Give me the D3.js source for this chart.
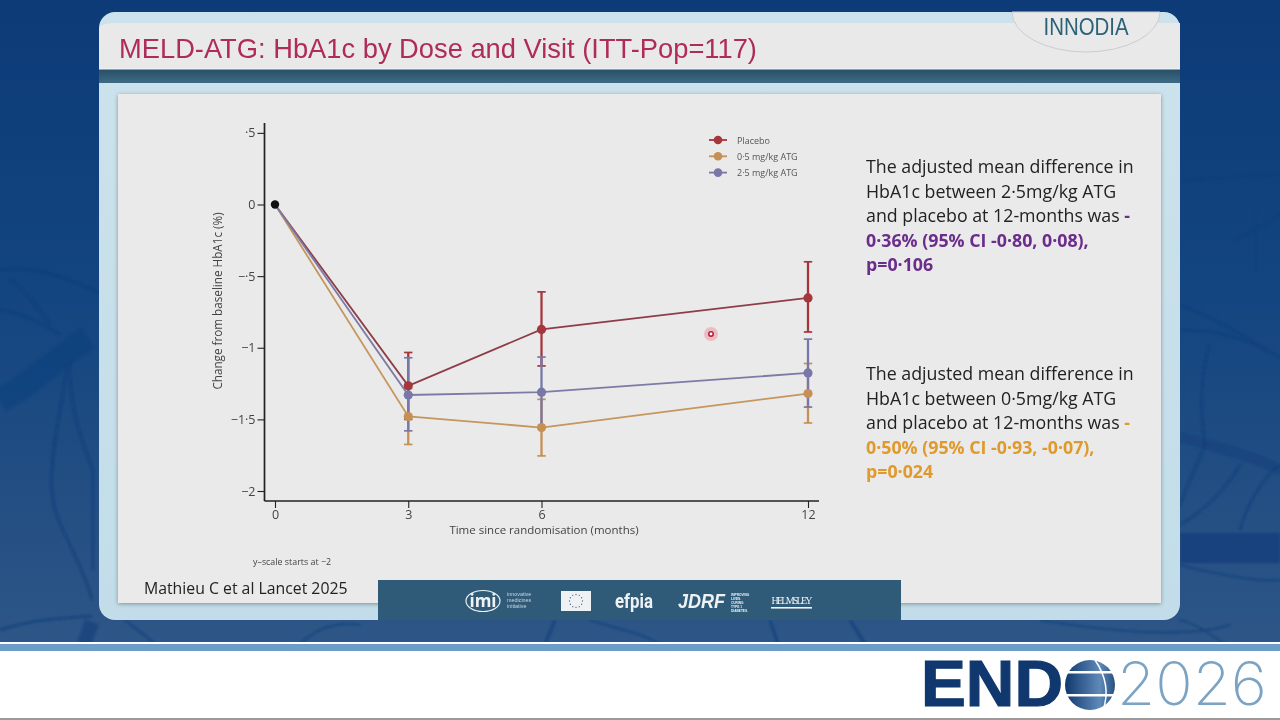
<!DOCTYPE html>
<html><head><meta charset="utf-8">
<script src="https://cdn.jsdelivr.net/npm/d3@7"></script>
<style>html,body{margin:0;padding:0;background:#fff}svg{display:block}</style>
</head><body><svg id="c" width="1280" height="720"></svg>
<script>
const months=[0,3,6,12];
const yTicks=[0.5,0,-0.5,-1,-1.5,-2];
const yTickLabels=["·5","0","−·5","−1","−1·5","−2"];
const placeboMean=[0,-1.266,-0.872,-0.652];
const placeboLow=[null,-1.5,-1.127,-0.89];
const placeboHigh=[null,-1.033,-0.61,-0.40];
const lowDoseMean=[0,-1.48,-1.557,-1.32];
const lowDoseLow=[null,-1.675,-1.755,-1.525];
const lowDoseHigh=[null,-1.285,-1.36,-1.11];
const highDoseMean=[0,-1.33,-1.31,-1.176];
const highDoseLow=[null,-1.58,-1.555,-1.414];
const highDoseHigh=[null,-1.07,-1.065,-0.94];
const seriesNames=["Placebo","0·5 mg/kg ATG","2·5 mg/kg ATG"];
const seriesColors=["#a4363c","#c68f55","#7877a8"];
const lineColors=["#8e3d48","#c5965e","#7c7ba6"];
const means=[placeboMean,lowDoseMean,highDoseMean];
const lows=[placeboLow,lowDoseLow,highDoseLow];
const highs=[placeboHigh,lowDoseHigh,highDoseHigh];

const svg=d3.select("#c");
const defs=svg.append("defs");
const g1=defs.append("linearGradient").attr("id","bg").attr("x1",0).attr("x2",0).attr("y1",0).attr("y2",1);
g1.append("stop").attr("offset",0).attr("stop-color","#0c3b78");
g1.append("stop").attr("offset",0.45).attr("stop-color","#134580");
g1.append("stop").attr("offset",0.7).attr("stop-color","#1f4c82");
g1.append("stop").attr("offset",1).attr("stop-color","#2e5687");
const g2=defs.append("linearGradient").attr("id","slide").attr("x1",0).attr("x2",0).attr("y1",0).attr("y2",1);
g2.append("stop").attr("offset",0).attr("stop-color","#cde2ec");
g2.append("stop").attr("offset",1).attr("stop-color","#c2dde9");
const g3=defs.append("linearGradient").attr("id","globe").attr("x1",0).attr("x2",1).attr("y1",0).attr("y2",0);
g3.append("stop").attr("offset",0).attr("stop-color","#10386f");
g3.append("stop").attr("offset",0.7).attr("stop-color","#5f8ab8");
g3.append("stop").attr("offset",1).attr("stop-color","#285080");
const g4=defs.append("linearGradient").attr("id","band").attr("x1",0).attr("x2",0).attr("y1",0).attr("y2",1);
g4.append("stop").attr("offset",0).attr("stop-color","#274f66");
g4.append("stop").attr("offset",1).attr("stop-color","#3f6a84");
const sh=defs.append("filter").attr("id","sh").attr("x","-5%").attr("y","-5%").attr("width","110%").attr("height","110%");
sh.append("feDropShadow").attr("dx",0).attr("dy",1).attr("stdDeviation",2).attr("flood-color","#000").attr("flood-opacity",0.35);
const bl=defs.append("filter").attr("id","bl");
bl.append("feGaussianBlur").attr("stdDeviation",0.9);

// backdrop
svg.append("rect").attr("width",1280).attr("height",644).attr("fill","url(#bg)");
const veins=[
 ["M0,400 C30,385 55,360 88,338",24,0.35],["M0,270 C40,265 70,280 98,292",1.6,0.7],["M0,310 C30,315 45,325 60,335",1.6,0.7],
 ["M10,280 C25,290 40,310 50,325",2,0.7],["M68,360 C60,420 45,470 55,510 C65,540 85,570 92,600",2.2,0.75],
 ["M70,360 C68,410 85,450 93,470 L93,570",2.2,0.75],["M0,630 C30,620 60,618 92,616",2.2,0.8],["M92,622 L84,644",14,0.6],
 ["M1180,305 C1220,320 1250,340 1280,358",1.6,0.7],["M1180,330 C1220,330 1250,340 1268,352",1.6,0.7],
 ["M1180,437 C1220,448 1250,455 1280,470",9,0.5],["M1180,548 H1280",30,0.7],["M1180,565 C1220,575 1260,582 1280,580",1.6,0.7],
 ["M1209,345 C1200,380 1200,410 1205,445 C1195,470 1185,490 1180,505",2,0.7],["M1240,465 C1225,490 1205,510 1180,525",1.8,0.7],
 ["M1280,465 C1260,480 1245,510 1240,530",1.8,0.7],["M1180,620 C1200,625 1210,635 1225,644",1.6,0.7],
 ["M1180,180 C1210,178 1250,176 1280,174",1,0.4],["M1256,205 V270 M1235,240 L1280,215",0.8,0.4],
 ["M555,620 L545,644",2.4,0.8],["M770,620 L778,644",2.4,0.8],["M850,620 L865,644",2.4,0.8],["M1040,620 C1100,630 1180,640 1230,625",1.6,0.7],
 ["M125,620 C135,628 145,635 155,644",1.8,0.7],["M300,644 C320,625 340,622 360,625",1.6,0.7],["M590,620 C620,630 640,632 660,644",1.4,0.7]
];
svg.append("g").attr("filter","url(#bl)").selectAll("path").data(veins).join("path").attr("d",d=>d[0]).attr("fill","none").attr("stroke","#0e3d7a").attr("stroke-width",d=>d[1]).attr("opacity",d=>d[2]);

// slide frame
svg.append("rect").attr("x",99).attr("y",12).attr("width",1081).attr("height",608).attr("rx",16).attr("fill","url(#slide)");
svg.append("path").attr("d","M99,69V30Q99,23 115,23H1180V69Z").attr("fill","#e9e9e9");
svg.append("rect").attr("x",99).attr("y",69).attr("width",1081).attr("height",14).attr("fill","url(#band)");
svg.append("rect").attr("x",99).attr("y",68.5).attr("width",1081).attr("height",1).attr("fill","#f2f6f8");
svg.append("path").attr("d","M1012,12 A74,40 0 0 0 1160,12 Z").attr("fill","#e9e9e9").attr("stroke","#c8ced0").attr("stroke-width",1);
svg.append("text").attr("x",1086).attr("y",35).attr("text-anchor","middle").attr("font-family","'Liberation Sans'").attr("font-size",23).attr("font-weight",400).attr("fill","#2c6278").attr("textLength",85).attr("lengthAdjust","spacingAndGlyphs").text("INNODIA");
svg.append("text").attr("x",119).attr("y",58).attr("font-family","'Liberation Sans'").attr("font-size",27.3).attr("fill","#ae2c56").text("MELD-ATG: HbA1c by Dose and Visit (ITT-Pop=117)");
svg.append("rect").attr("x",118).attr("y",94).attr("width",1043).attr("height",509).attr("fill","#eaeaea").attr("filter","url(#sh)");

// chart
const x=d3.scaleLinear().domain([0,12]).range([275,808]);
const y=d3.scaleLinear().domain([0,-2]).range([204.5,491]);
const axisColor="#222";
const tickFont="'Open Sans'";
const axX=svg.append("g").attr("transform","translate(0,501)").call(d3.axisBottom(x).tickValues(months).tickSize(7).tickPadding(2).tickFormat(d3.format("d")));
axX.select(".domain").attr("d","M264.5,0H819").attr("stroke",axisColor).attr("stroke-width",1.5);
axX.selectAll("line").attr("stroke",axisColor).attr("stroke-width",1.1);
axX.selectAll("text").attr("font-family",tickFont).attr("font-size",12.5).attr("fill","#444");
const axY=svg.append("g").attr("transform","translate(264.5,0)").call(d3.axisLeft(y).tickValues(yTicks).tickSize(7).tickPadding(2).tickFormat((d,i)=>yTickLabels[i]));
axY.select(".domain").attr("d","M0,123V501").attr("stroke",axisColor).attr("stroke-width",1.7);
axY.selectAll("line").attr("stroke",axisColor).attr("stroke-width",1.1);
axY.selectAll("text").attr("font-family",tickFont).attr("font-size",12.5).attr("fill","#444");
svg.append("text").attr("transform","translate(222,301) rotate(-90)").attr("text-anchor","middle").attr("font-family",tickFont).attr("font-size",11.7).attr("fill","#444").text("Change from baseline HbA1c (%)");
svg.append("text").attr("x",544).attr("y",534).attr("text-anchor","middle").attr("font-family",tickFont).attr("font-size",11.5).attr("fill","#444").text("Time since randomisation (months)");
svg.append("text").attr("x",253).attr("y",565).attr("font-family",tickFont).attr("font-size",8.9).attr("fill","#444").text("y–scale starts at −2");

const line=d3.line().x((d,i)=>x(months[i])).y(d=>y(d));
const barsLayer=svg.append("g"), linesLayer=svg.append("g"), pointsLayer=svg.append("g");
seriesNames.forEach((n,s)=>{
  const idx=months.map((m,i)=>i).filter(i=>lows[s][i]!==null);
  const g=barsLayer.append("g");
  g.selectAll("line.e").data(idx).join("line").attr("class","e").attr("x1",i=>x(months[i])).attr("x2",i=>x(months[i])).attr("y1",i=>y(lows[s][i])).attr("y2",i=>y(highs[s][i])).attr("stroke",seriesColors[s]).attr("stroke-width",2.3);
  [lows[s],highs[s]].forEach(arr=>{
    g.selectAll(null).data(idx).join("line").attr("x1",i=>x(months[i])-4.2).attr("x2",i=>x(months[i])+4.2).attr("y1",i=>y(arr[i])).attr("y2",i=>y(arr[i])).attr("stroke",seriesColors[s]).attr("stroke-width",1.7);
  });
  linesLayer.append("path").attr("d",line(means[s])).attr("fill","none").attr("stroke",lineColors[s]).attr("stroke-width",1.8);
  pointsLayer.append("g").selectAll("circle").data(idx).join("circle").attr("cx",i=>x(months[i])).attr("cy",i=>y(means[s][i])).attr("r",4.6).attr("fill",seriesColors[s]);
});
svg.append("circle").attr("cx",x(0)).attr("cy",y(0)).attr("r",4.2).attr("fill","#111");

// legend
const leg=svg.append("g").selectAll("g").data(seriesNames).join("g").attr("transform",(d,i)=>`translate(718,${140+i*16.3})`);
leg.append("line").attr("x1",-9).attr("x2",9).attr("stroke",(d,i)=>seriesColors[i]).attr("stroke-width",1.8);
leg.append("circle").attr("r",4.3).attr("fill",(d,i)=>seriesColors[i]);
leg.append("text").attr("x",19).attr("y",3.5).attr("font-family",tickFont).attr("font-size",9).attr("fill","#555").text(d=>d);

// side notes
const notes=[
 {y:173,c:"#6b2d8b",l:[["The adjusted mean difference in"],["HbA1c between 2·5mg/kg ATG"],["and placebo at 12-months was ","-"],[null,"0·36% (95% CI -0·80, 0·08),"],[null,"p=0·106"]]},
 {y:380,c:"#e09a2b",l:[["The adjusted mean difference in"],["HbA1c between 0·5mg/kg ATG"],["and placebo at 12-months was ","-"],[null,"0·50% (95% CI -0·93, -0·07),"],[null,"p=0·024"]]}
];
notes.forEach(n=>{
  const t=svg.append("text").attr("font-family","'Open Sans'").attr("font-size",17.8).attr("fill","#222");
  n.l.forEach((r,i)=>{
    const yy=n.y+i*24.6;
    if(r[0]) t.append("tspan").attr("x",866).attr("y",yy).text(r[0]);
    if(r[1]){const s=t.append("tspan").attr("fill",n.c).attr("font-weight",700).text(r[1]); if(!r[0]) s.attr("x",866).attr("y",yy);}
  });
});
svg.append("text").attr("x",144).attr("y",594).attr("font-family","'Open Sans'").attr("font-size",15.8).attr("fill","#222").text("Mathieu C et al Lancet 2025");

// pointer
svg.append("circle").attr("cx",711).attr("cy",334).attr("r",7).attr("fill","#e88a94").attr("opacity",0.45);
svg.append("circle").attr("cx",711).attr("cy",334).attr("r",2.2).attr("fill","#fff").attr("stroke","#c0143c").attr("stroke-width",1.5);

// sponsor band
svg.append("rect").attr("x",378).attr("y",580).attr("width",523).attr("height",40).attr("fill","#2f5a78");
const w="#eef2f5";
svg.append("ellipse").attr("cx",483).attr("cy",601).attr("rx",17).attr("ry",10.5).attr("fill","none").attr("stroke",w).attr("stroke-width",1.2);
svg.append("text").attr("x",483).attr("y",607).attr("text-anchor","middle").attr("font-family","'Open Sans'").attr("font-weight",700).attr("font-size",17).attr("fill",w).text("imi");
["innovative","medicines","initiative"].forEach((t,i)=>svg.append("text").attr("x",507).attr("y",596+i*6.2).attr("font-family","'Liberation Sans'").attr("font-size",5.4).attr("fill","#c9d6df").text(t));
svg.append("rect").attr("x",561).attr("y",591).attr("width",30).attr("height",20).attr("fill",w);
svg.append("g").selectAll("circle").data(d3.range(12)).join("circle").attr("cx",d=>576+6.5*Math.cos(d*Math.PI/6)).attr("cy",d=>601+6.5*Math.sin(d*Math.PI/6)).attr("r",0.7).attr("fill","#56718a");
svg.append("text").attr("x",634).attr("y",608).attr("text-anchor","middle").attr("font-family","'Roboto'").attr("font-weight",700).attr("font-size",20).attr("fill",w).attr("textLength",38).attr("lengthAdjust","spacingAndGlyphs").text("efpia");
svg.append("text").attr("x",678).attr("y",608).attr("font-family","'Liberation Sans'").attr("font-style","italic").attr("font-weight",700).attr("font-size",21).attr("fill",w).attr("textLength",47).attr("lengthAdjust","spacingAndGlyphs").text("JDRF");
["IMPROVING","LIVES.","CURING","TYPE 1","DIABETES."].forEach((t,i)=>svg.append("text").attr("x",731).attr("y",596+i*3.9).attr("font-family","'Liberation Sans'").attr("font-weight",700).attr("font-size",3.2).attr("fill",w).text(t));
svg.append("text").attr("x",792).attr("y",604).attr("text-anchor","middle").attr("font-family","'Liberation Serif'").attr("font-size",10).attr("fill",w).attr("textLength",41).attr("lengthAdjust","spacing").text("HELMSLEY");
svg.append("rect").attr("x",771).attr("y",607).attr("width",41).attr("height",1.6).attr("fill",w);

// conference footer
svg.append("rect").attr("y",642).attr("width",1280).attr("height",78).attr("fill","#fff");
svg.append("rect").attr("y",644).attr("width",1280).attr("height",7).attr("fill","#6c9dc6");
svg.append("rect").attr("y",718).attr("width",1280).attr("height",2).attr("fill","#9a9a9a");
svg.append("text").attr("x",921).attr("y",706).attr("font-family","'Liberation Sans'").attr("font-weight",700).attr("font-size",64).attr("fill","#10386f").attr("stroke","#10386f").attr("stroke-width",1.2).attr("textLength",142).attr("lengthAdjust","spacingAndGlyphs").text("END");
svg.append("circle").attr("cx",1090).attr("cy",685).attr("r",25).attr("fill","url(#globe)");
svg.append("rect").attr("x",1064).attr("y",671).attr("width",52).attr("height",2.5).attr("fill","#fff");
svg.append("rect").attr("x",1064).attr("y",694).attr("width",52).attr("height",2.5).attr("fill","#fff");
svg.append("path").attr("d","M1095,660 Q1112,685 1103,710").attr("fill","none").attr("stroke","#fff").attr("stroke-width",1.5);
svg.append("text").attr("x",1117).attr("y",705).attr("font-family","'Inter'").attr("font-weight",200).attr("font-size",60).attr("fill","#7ba3c4").attr("textLength",150).attr("lengthAdjust","spacingAndGlyphs").text("2026");
</script></body></html>
